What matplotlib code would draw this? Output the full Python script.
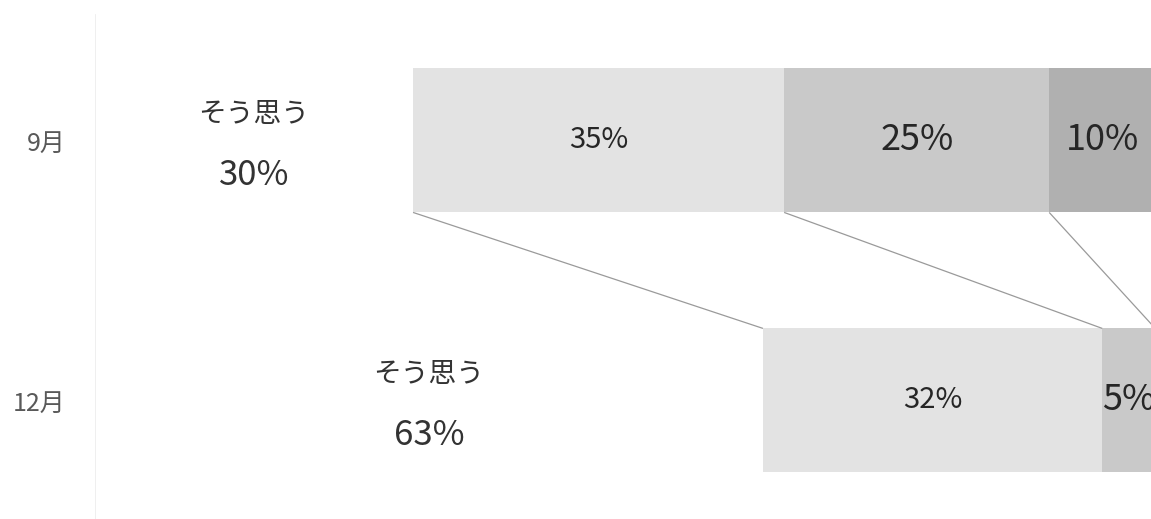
import numpy as np
import matplotlib
matplotlib.use("Agg")
import matplotlib.pyplot as plt

plt.rcParams['font.family'] = ['Noto Sans CJK JP', 'DejaVu Sans']

months = ["9月", "12月"]
agree_label = "そう思う"
# share of answers per month, first column is "そう思う"
shares = np.array([
    [30, 35, 25, 10],
    [63, 32, 5, 0],
])

seg_colors = ["none", "#e3e3e3", "#c9c9c9", "#b0b0b0"]
seg_fontsize = [None, 21, 26, 26]

fig = plt.figure(figsize=(11.51, 5.19), dpi=100)
ax = fig.add_axes([95 / 1151, 0, 1056 / 1151, 1])

y = np.arange(len(months))
bar_h = 0.554
left = np.zeros(len(months))
for j in range(shares.shape[1]):
    vals = shares[:, j]
    ax.barh(y, vals, left=left, height=bar_h, color=seg_colors[j],
            edgecolor="none", linewidth=0)
    if j > 0:
        for i, v in enumerate(vals):
            if v > 0:
                ax.text(left[i] + v / 2, y[i], f"{v}%", ha="center", va="center",
                        fontsize=seg_fontsize[j], color="#262626")
    left = left + vals

# "そう思う" label sits in the blank first segment
for i, v in enumerate(shares[:, 0]):
    ax.text(v / 2, y[i] - 0.10, agree_label, ha="center", va="center",
            fontsize=20, color="#333333")
    ax.text(v / 2, y[i] + 0.135, f"{v}%", ha="center", va="center",
            fontsize=25, color="#333333")

# connector lines between segment boundaries of consecutive months
cum = np.cumsum(shares, axis=1)
for i in range(len(months) - 1):
    for j in range(shares.shape[1] - 1):
        ax.plot([cum[i, j], cum[i + 1, j]],
                [y[i] + bar_h / 2, y[i + 1] - bar_h / 2],
                color="#9a9a9a", lw=0.9, solid_capstyle="butt")

ax.axvline(0, ymin=0, ymax=(519 - 15) / 519, color="#ececec", lw=1.2)

ax.set_xlim(0, 99.6)
ax.set_ylim(1.456, -0.540)
ax.set_yticks(y)
ax.set_yticklabels(months, fontsize=18, color="#595959")
ax.tick_params(axis="y", length=0, pad=21)
ax.tick_params(axis="x", bottom=False, labelbottom=False)
for s in ax.spines.values():
    s.set_visible(False)

fig.savefig("out.png", dpi=100)
